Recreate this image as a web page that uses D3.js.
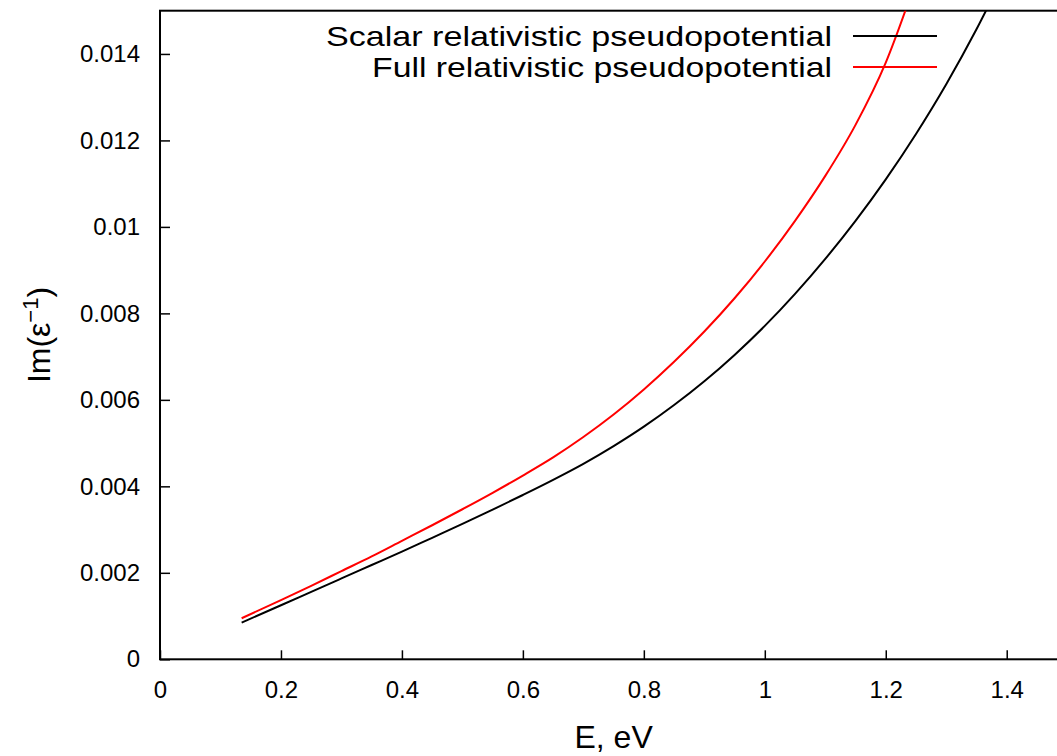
<!DOCTYPE html>
<html><head><meta charset="utf-8">
<script src="https://cdn.jsdelivr.net/npm/d3@7"></script>
<style>
html,body{margin:0;padding:0;background:#fff;}
svg{display:block;font-family:"Liberation Sans",Arial,sans-serif;}
</style></head>
<body>
<svg id="chart" width="1057" height="756"></svg>
<script>
const energy = [0.135,0.2,0.25,0.3,0.35,0.4,0.45,0.5,0.55,0.6,0.65,0.7,0.75,0.8,0.85,0.9,0.95,1.0,1.05,1.1,1.15,1.2,1.25,1.3,1.35,1.4];
const scalarRel = [0.00085,0.00125,0.00156,0.00187,0.00218,0.00249,0.00281,0.00313,0.00346,0.0038,0.00415,0.00452,0.00493,0.00538,0.00588,0.00643,0.00704,0.00771,0.00845,0.00926,0.01014,0.0111,0.01215,0.0133,0.01457,0.01597];
const fullRel = [0.00095,0.00137,0.00170,0.00204,0.00238,0.00274,0.00310,0.00347,0.00385,0.00425,0.00467,0.00514,0.00566,0.00624,0.00688,0.00758,0.00835,0.0092,0.01014,0.01118,0.01236,0.0138,0.0157,0.0178,0.0202,0.0228];
const seriesNames = ["Scalar relativistic pseudopotential","Full relativistic pseudopotential"];
const seriesColors = ["#000000","#ff0000"];
const xTicks = [0,0.2,0.4,0.6,0.8,1,1.2,1.4];
const yTicks = [0,0.002,0.004,0.006,0.008,0.01,0.012,0.014];

const svg = d3.select("#chart");
const L = 160, T = 10.7, B = 659.3, R = 160 + 1.5*604.8;
const x = d3.scaleLinear().domain([0,1.5]).range([L,R]);
const y = d3.scaleLinear().domain([0,0.015]).range([B,T]);

svg.append("defs").append("clipPath").attr("id","clip")
  .append("rect").attr("x",L).attr("y",T).attr("width",R-L).attr("height",B-T);

// x axis
const xAxis = svg.append("g").attr("transform",`translate(0,${B})`)
  .call(d3.axisBottom(x).tickValues(xTicks).tickSize(-9).tickPadding(22).tickFormat(d3.format("")));
xAxis.select(".domain").remove();
xAxis.selectAll("line").attr("stroke","#000").attr("stroke-width",1.5);
xAxis.selectAll("text").attr("font-size",24).attr("fill","#000").attr("font-family","Liberation Sans, Arial, sans-serif");

// y axis
const yAxis = svg.append("g").attr("transform",`translate(${L},0)`)
  .call(d3.axisLeft(y).tickValues(yTicks).tickSize(-10).tickPadding(20).tickFormat(d => d===0?"0":String(+d.toFixed(3))));
yAxis.select(".domain").remove();
yAxis.selectAll("line").attr("stroke","#000").attr("stroke-width",1.5);
yAxis.selectAll("text").attr("font-size",24).attr("fill","#000").attr("font-family","Liberation Sans, Arial, sans-serif");

// border
svg.append("rect").attr("x",L).attr("y",T).attr("width",R-L).attr("height",B-T)
  .attr("fill","none").attr("stroke","#000").attr("stroke-width",2);

// lines
const line = d3.line().x((d,i)=>x(energy[i])).y(d=>y(d)).curve(d3.curveMonotoneX);
const g = svg.append("g").attr("clip-path","url(#clip)");
[scalarRel, fullRel].forEach((s,k)=>{
  g.append("path").attr("d",line(s)).attr("fill","none")
   .attr("stroke",seriesColors[k]).attr("stroke-width",2).attr("stroke-linejoin","round");
});

// legend
const legY = [36,67];
const legW = [506,460];
seriesNames.forEach((n,k)=>{
  svg.append("text").attr("x",832).attr("y",legY[k]+10).attr("text-anchor","end")
    .attr("font-size",28).attr("fill","#000")
    .attr("textLength",legW[k]).attr("lengthAdjust","spacingAndGlyphs").text(n);
  svg.append("line").attr("x1",853).attr("x2",937).attr("y1",legY[k]).attr("y2",legY[k])
    .attr("stroke",seriesColors[k]).attr("stroke-width",2);
});

// axis titles
svg.append("text").attr("x",(L+R)/2).attr("y",748).attr("text-anchor","middle")
  .attr("font-size",32).attr("fill","#000").text("E, eV");
const yl = svg.append("text").attr("transform",`translate(50,${(T+B)/2}) rotate(-90)`)
  .attr("text-anchor","middle").attr("font-size",32).attr("fill","#000");
yl.append("tspan").text("Im(ε");
yl.append("tspan").attr("dy",-12).attr("font-size",22).text("−1");
yl.append("tspan").attr("dy",12).text(")");
</script>
</body></html>
